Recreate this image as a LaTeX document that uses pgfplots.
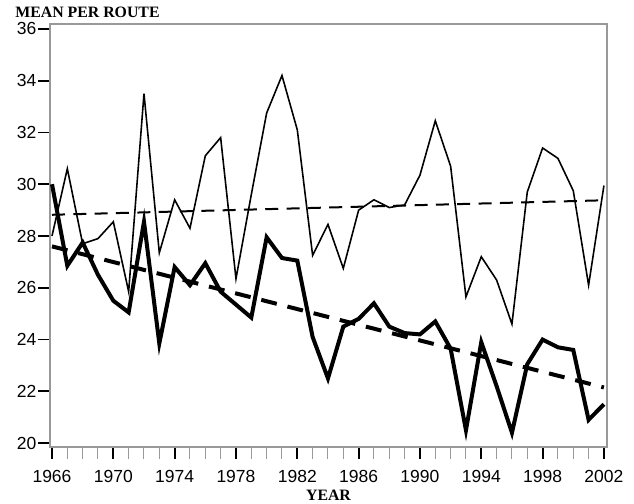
\documentclass[border=0pt]{standalone}
\usepackage{fontspec}
\setmainfont{Liberation Sans}
\newfontfamily\titlefont{Liberation Serif}
\usepackage{pgfplots}
\pgfplotsset{compat=1.18}
\begin{document}
\begin{tikzpicture}
\begin{axis}[
  scale only axis,
  width=334.2pt, height=253.8pt,
  xmin=1965.87, xmax=2002.2,
  ymin=19.85, ymax=36.19,
  axis line style={draw=gray!80, line width=0.9pt},
  tick align=outside,
  xtick pos=bottom, ytick pos=left,
  xtick={1966,1970,...,2002},
  minor xtick={1966,...,2002},
  ytick={20,22,...,36},
  major tick length=7pt,
  minor tick length=7pt,
  major tick style={black, line width=1.1pt},
  minor tick style={gray!80, line width=0.6pt},
  /pgf/number format/1000 sep={},
  /pgf/number format/assume math mode=true,
  tick label style={font=\fontsize{10.5}{12}\selectfont},
  yticklabel style={inner xsep=1pt},
  xticklabel style={inner ysep=1pt, yshift=-5.5pt},
  xlabel={\titlefont\bfseries YEAR},
  xlabel style={at={(rel axis cs:0.5,0)}, anchor=center, yshift=-29pt, font=\fontsize{9.5}{11}\selectfont, inner sep=0pt},
  ylabel={\titlefont\bfseries MEAN PER ROUTE},
  ylabel style={at={(rel axis cs:0,1)}, rotate=-90, anchor=west, xshift=-21pt, yshift=6.8pt, font=\fontsize{9.5}{11}\selectfont, inner sep=0pt},
  clip=false,
]
% thin series
\addplot[black, line width=0.95pt] coordinates {
(1966,28.0) (1967,30.6) (1968,27.7) (1969,27.9) (1970,28.55) (1971,25.85)
(1972,33.5) (1973,27.35) (1974,29.4) (1975,28.3) (1976,31.1) (1977,31.8)
(1978,26.35) (1979,29.6) (1980,32.75) (1981,34.2) (1982,32.1) (1983,27.25)
(1984,28.45) (1985,26.75) (1986,29.0) (1987,29.4) (1988,29.1) (1989,29.2)
(1990,30.35) (1991,32.45) (1992,30.7) (1993,25.65) (1994,27.2) (1995,26.3)
(1996,24.6) (1997,29.7) (1998,31.4) (1999,31.0) (2000,29.75) (2001,26.1)
(2002,29.95)};
% thin trend
\addplot[black, line width=1.2pt, dash pattern=on 7.8pt off 5pt] coordinates {(1966,28.82) (2002,29.38)};
% thick series
\addplot[black, line width=2.4pt] coordinates {
(1966,30.0) (1967,26.85) (1968,27.75) (1969,26.5) (1970,25.5) (1971,25.05)
(1972,28.55) (1973,23.85) (1974,26.8) (1975,26.1) (1976,26.95) (1977,25.85)
(1978,25.35) (1979,24.85) (1980,27.95) (1981,27.15) (1982,27.05) (1983,24.1)
(1984,22.5) (1985,24.5) (1986,24.8) (1987,25.4) (1988,24.5) (1989,24.25)
(1990,24.2) (1991,24.7) (1992,23.65) (1993,20.5) (1994,23.9) (1995,22.2)
(1996,20.4) (1997,23.05) (1998,24.0) (1999,23.7) (2000,23.6) (2001,20.9)
(2002,21.5)};
% thick trend
\addplot[black, line width=2.4pt, dash pattern=on 9.6pt off 6.6pt] coordinates {(1966,27.6) (2002,22.15)};
\end{axis}
\path (-30pt,-34.2pt) rectangle (350.4pt,268.2pt);
\end{tikzpicture}
\end{document}
